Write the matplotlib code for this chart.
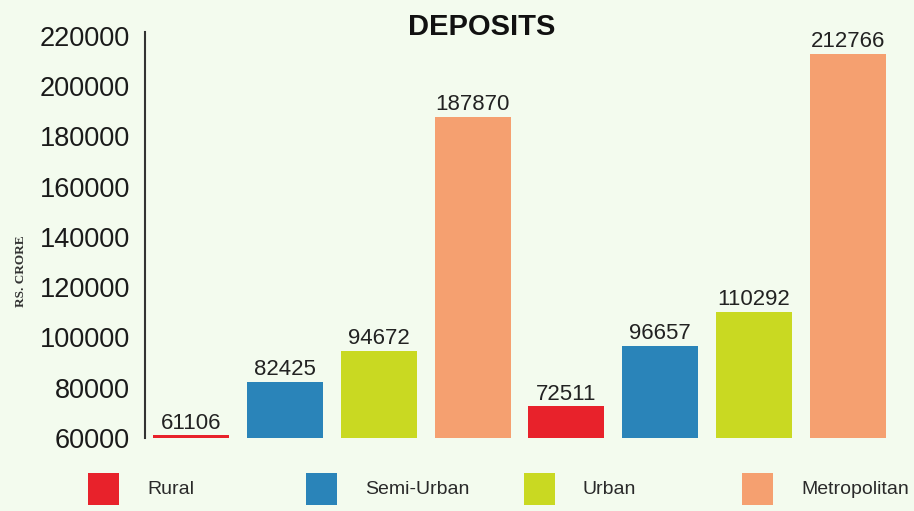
import numpy as np
import matplotlib
matplotlib.use("Agg")
import matplotlib.pyplot as plt
from matplotlib.patches import Rectangle

categories = ['Rural', 'Semi-Urban', 'Urban', 'Metropolitan']
colors = ['#e8222b', '#2a84b9', '#c9d922', '#f5a070']
period1 = [61106, 82425, 94672, 187870]
period2 = [72511, 96657, 110292, 212766]

plt.rcParams['font.family'] = ['Liberation Sans', 'DejaVu Sans']

fig = plt.figure(figsize=(9.14, 5.11), dpi=100)
fig.patch.set_facecolor('#f3fbee')
ax = fig.add_axes([0.159, 0.143, 0.822, 0.787])
ax.set_facecolor('#f3fbee')

vals = period1 + period2
cols = colors + colors
x = np.arange(len(vals))
bars = ax.bar(x, vals, width=0.81, color=cols)
for xi, v in zip(x, vals):
    ax.text(xi, v + 600, str(v), ha='center', va='bottom', fontsize=16, color='#222222')

ax.set_ylim(60000, 220000)
ax.set_xlim(-0.49, 7.52)
ax.set_yticks(np.arange(60000, 220001, 20000))
ax.set_yticklabels([str(t) for t in range(60000, 220001, 20000)], fontsize=19.5, color='#1a1a1a')
ax.tick_params(axis='y', length=0, pad=11)
ax.set_xticks([])
for s in ['top', 'right', 'bottom']:
    ax.spines[s].set_visible(False)
ax.spines['left'].set_color('#333333')
ax.spines['left'].set_linewidth(1.5)
ax.spines['left'].set_bounds(60000, 221500)

fig.text(0.527, 0.947, 'DEPOSITS', ha='center', va='center', fontsize=21, fontweight='bold', color='#111111')
fig.text(0.023, 0.47, 'RS. CRORE', rotation=90, ha='center', va='center', fontsize=9.5,
         fontweight='bold', family=['Liberation Serif', 'DejaVu Serif'], color='#333333')

# legend drawn by hand, evenly spaced along the bottom
for i, (c, l) in enumerate(zip(colors, categories)):
    x0 = (88 + 218 * i) / 914
    fig.add_artist(Rectangle((x0, 6 / 511), 31 / 914, 32 / 511, transform=fig.transFigure,
                             facecolor=c, edgecolor='none'))
    fig.text(x0 + 59 / 914, 22 / 511, l, ha='left', va='center', fontsize=14, color='#2a2a2a')

fig.savefig('out.png', dpi=100, facecolor=fig.get_facecolor())
